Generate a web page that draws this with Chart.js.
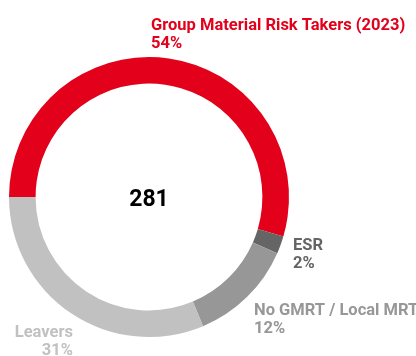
<!DOCTYPE html>
<html>
<head>
<meta charset="utf-8">
<script src="https://cdn.jsdelivr.net/npm/chart.js@4/dist/chart.umd.min.js"></script>
<style>
  html, body { margin: 0; padding: 0; background: #fff; }
  canvas { display: block; }
</style>
</head>
<body>
<canvas id="mrtChart" width="416" height="356"></canvas>
<script>
const categories = ["Group Material Risk Takers (2023)", "ESR", "No GMRT / Local MRT", "Leavers"];
const shares = [54, 2, 12, 31];
const totalHeadcount = 281;
const sliceColors = ["#e2001a", "#656565", "#979797", "#c1c1c1"];

const FONT = "Roboto, 'Noto Sans', sans-serif";

// label anchor and alignment per slice
const labelSpots = [
    { x: 151, y: 30, align: "left" },
    { x: 293, y: 250, align: "left" },
    { x: 254, y: 315, align: "left" },
    { x: 73, y: 337, align: "right" }
];

const ringLabels = {
    id: "ringLabels",
    afterDraw(chart) {
        const ctx = chart.ctx;
        const meta = chart.getDatasetMeta(0);
        const arc = meta.data[0];
        ctx.save();
        ctx.textBaseline = "alphabetic";

        // total in the hole
        ctx.fillStyle = "#000";
        ctx.font = "bold 23px " + FONT;
        ctx.textAlign = "center";
        ctx.fillText(String(totalHeadcount), arc.x, arc.y + 9);

        categories.forEach((name, i) => {
            const spot = labelSpots[i];
            ctx.fillStyle = sliceColors[i];
            ctx.textAlign = spot.align;
            ctx.font = "bold 16.5px " + FONT;
            ctx.fillText(name, spot.x, spot.y);
            ctx.fillText(shares[i] + "%", spot.x, spot.y + 18);
        });
        ctx.restore();
    }
};

new Chart(document.getElementById("mrtChart"), {
    type: "doughnut",
    data: {
        labels: categories,
        datasets: [{
            data: shares,
            backgroundColor: sliceColors,
            borderWidth: 0
        }]
    },
    options: {
        responsive: false,
        animation: false,
        rotation: -90,
        cutout: "81%",
        layout: { padding: { left: 9, right: 127, top: 57, bottom: 19 } },
        plugins: {
            legend: { display: false },
            tooltip: { enabled: false }
        }
    },
    plugins: [ringLabels]
});
</script>
</body>
</html>
